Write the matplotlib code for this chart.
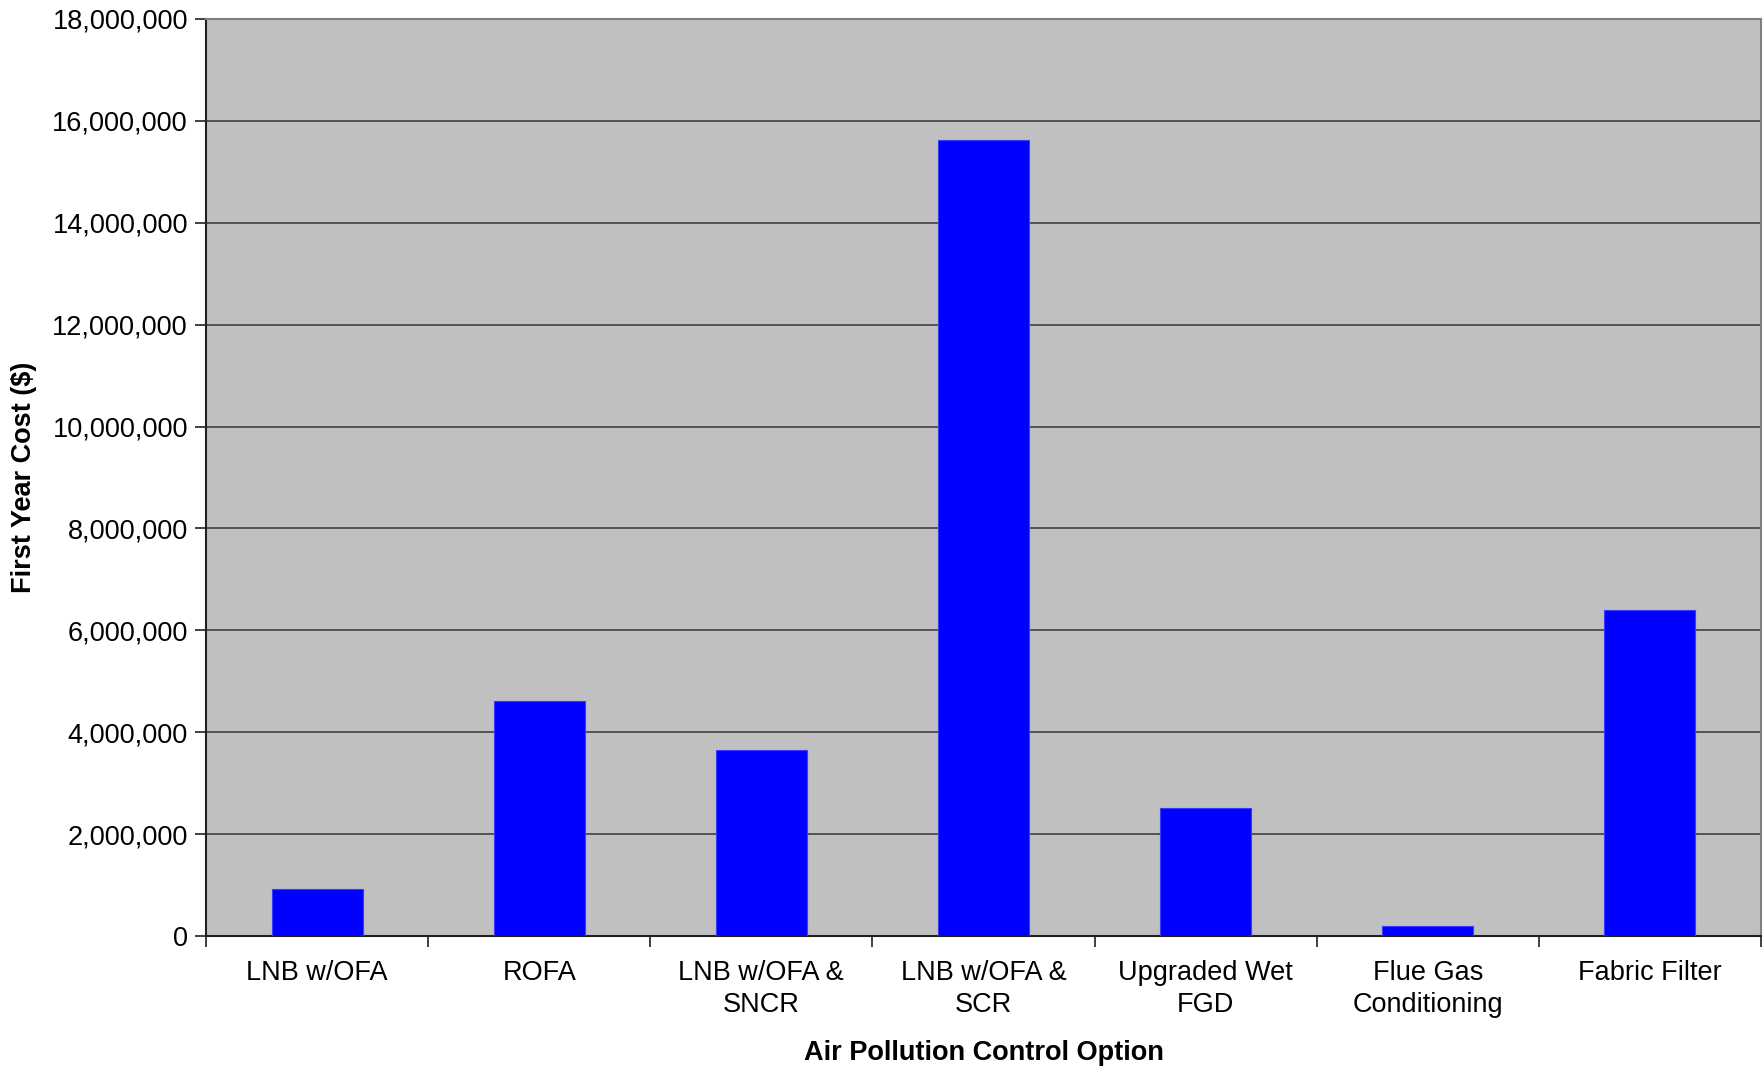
import matplotlib
matplotlib.use("Agg")
import matplotlib.pyplot as plt
from matplotlib.ticker import FuncFormatter, MultipleLocator

categories = [
    "LNB w/OFA",
    "ROFA",
    "LNB w/OFA &\nSNCR",
    "LNB w/OFA &\nSCR",
    "Upgraded Wet\nFGD",
    "Flue Gas\nConditioning",
    "Fabric Filter",
]
first_year_cost = [920000, 4610000, 3650000, 15630000, 2520000, 200000, 6390000]

plt.rcParams["font.family"] = ["Liberation Sans", "DejaVu Sans"]

fig = plt.figure(figsize=(17.65, 10.68), dpi=100)
ax = fig.add_axes([206 / 1765, 1 - 936 / 1068, (1761 - 206) / 1765, (936 - 19) / 1068])

x = range(len(categories))
ax.bar(x, first_year_cost, width=0.41, color="#0000ff", edgecolor="#3a3aff",
       linewidth=0.8, zorder=3)

ax.set_facecolor("#c0c0c0")
ax.set_xlim(-0.5, len(categories) - 0.5)
ax.set_ylim(0, 18000000)
ax.yaxis.set_major_locator(MultipleLocator(2000000))
ax.yaxis.set_major_formatter(FuncFormatter(lambda v, p: f"{int(v):,}"))
ax.grid(axis="y", color="#404040", linewidth=1.2, zorder=1)
ax.set_axisbelow(True)

# category ticks sit at the boundaries between bars
ax.set_xticks([i - 0.5 for i in range(len(categories) + 1)])
ax.set_xticklabels([])
ax.set_xticks(list(x), minor=True)
ax.set_xticklabels(categories, minor=True, fontsize=19.5, linespacing=1.32)
ax.tick_params(axis="x", which="minor", length=0, pad=17)
ax.tick_params(axis="x", which="major", length=8, width=1.2, color="#202020")
ax.tick_params(axis="y", length=8, width=1.2, color="#202020", labelsize=19.5, pad=5)

for side in ("left", "bottom"):
    ax.spines[side].set_color("#202020")
    ax.spines[side].set_linewidth(1.5)
for side in ("top", "right"):
    ax.spines[side].set_color("#808080")
    ax.spines[side].set_linewidth(1.5)

ax.set_xlabel("Air Pollution Control Option", fontsize=19.5, fontweight="bold")
ax.set_ylabel("First Year Cost ($)", fontsize=19.5, fontweight="bold")
ax.xaxis.set_label_coords(0.5, -0.113)
ax.yaxis.set_label_coords(-0.109, 0.5)

fig.savefig("out.png", dpi=100, facecolor="white")
